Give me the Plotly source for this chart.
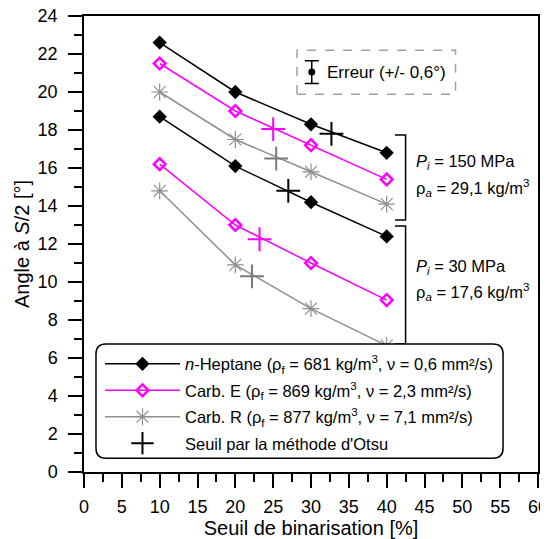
import plotly.graph_objects as go

# ---- data ----
x_seuil = [10, 20, 30, 40]
hep_150 = [22.6, 20.0, 18.3, 16.8]
hep_30 = [18.7, 16.1, 14.2, 12.4]
carbE_150 = [21.5, 19.0, 17.2, 15.4]
carbE_30 = [16.2, 13.0, 11.0, 9.05]
carbR_150 = [20.0, 17.5, 15.8, 14.1]
carbR_30 = [14.8, 10.9, 8.6, 6.65]

otsu_hep_x = [32.7, 27.0]
otsu_hep_y = [17.8, 14.8]
otsu_E_x = [25.0, 23.2]
otsu_E_y = [18.05, 12.25]
otsu_R_x = [25.4, 22.2]
otsu_R_y = [16.5, 10.3]

err_x = [30.1]
err_y = [21.05]
err_val = [0.6]

x_ticks = list(range(0, 61, 5))
y_ticks = list(range(0, 25, 2))

names = [
    "<i>n</i>-Heptane (ρ<sub>f</sub> = 681 kg/m<sup>3</sup>, ν = 0,6 mm²/s)",
    "Carb. E (ρ<sub>f</sub> = 869 kg/m<sup>3</sup>, ν = 2,3 mm²/s)",
    "Carb. R (ρ<sub>f</sub> = 877 kg/m<sup>3</sup>, ν = 7,1 mm²/s)",
    "Seuil par la méthode d'Otsu",
]

BLACK = "#000000"
MAG = "#ff00ff"
GRAY = "#8f8f8f"
GRAY_D = "#7a7a7a"
FONT = "Arial, Liberation Sans, sans-serif"

fig = go.Figure()

def series(y150, y30, name, color, marker, group):
    xs = x_seuil + [None] + x_seuil
    ys = y150 + [None] + y30
    fig.add_trace(go.Scatter(x=xs, y=ys, mode="lines+markers", name=name,
                             line=dict(color=color, width=1.5),
                             marker=marker, connectgaps=False,
                             legendgroup=group))

series(hep_150, hep_30, names[0], BLACK,
       dict(symbol="diamond", size=11, color=BLACK, line=dict(width=0)), "g1")
series(carbE_150, carbE_30, names[1], MAG,
       dict(symbol="diamond-open", size=9, color=MAG, line=dict(width=2.5, color=MAG)), "g2")
series(carbR_150, carbR_30, names[2], GRAY,
       dict(symbol="asterisk-open", size=14, color=GRAY, line=dict(width=1.2, color=GRAY)), "g3")

cross = dict(symbol="cross-thin-open", size=17)
fig.add_trace(go.Scatter(x=otsu_hep_x, y=otsu_hep_y, mode="markers", name=names[3],
                         marker=dict(**cross, color=BLACK, line=dict(width=2, color=BLACK)),
                         legendgroup="g4"))
fig.add_trace(go.Scatter(x=otsu_E_x, y=otsu_E_y, mode="markers", showlegend=False,
                         marker=dict(**cross, color=MAG, line=dict(width=2, color=MAG))))
fig.add_trace(go.Scatter(x=otsu_R_x, y=otsu_R_y, mode="markers", showlegend=False,
                         marker=dict(**cross, color=GRAY_D, line=dict(width=2, color=GRAY_D))))

# error symbol
fig.add_trace(go.Scatter(x=err_x, y=err_y, mode="markers", showlegend=False,
                         marker=dict(symbol="circle", size=7, color=BLACK),
                         error_y=dict(type="data", array=err_val, color=BLACK,
                                      thickness=1.5, width=7)))

# ---- shapes ----
shapes = []
shapes.append(dict(type="rect", xref="x", yref="y", x0=28.15, x1=49.1, y0=19.88, y1=22.2,
                   line=dict(color="#a0a0a0", width=1.5, dash="dash")))
shapes.append(dict(type="path", xref="x", yref="y",
                   path="M 41.1,17.74 L 42.5,17.74 L 42.5,13.26 L 41.1,13.26",
                   line=dict(color=BLACK, width=1.5)))
shapes.append(dict(type="path", xref="x", yref="y",
                   path="M 41.1,12.95 L 42.5,12.95 L 42.5,6.74 L 41.1,6.74",
                   line=dict(color=BLACK, width=1.5)))
x0, x1, y0, y1 = 0.0264, 0.923, 0.0300, 0.2807
rx, ry = 0.022, 0.022
p = (f"M {x0+rx},{y0} L {x1-rx},{y0} Q {x1},{y0} {x1},{y0+ry} "
     f"L {x1},{y1-ry} Q {x1},{y1} {x1-rx},{y1} L {x0+rx},{y1} "
     f"Q {x0},{y1} {x0},{y1-ry} L {x0},{y0+ry} Q {x0},{y0} {x0+rx},{y0} Z")
shapes.append(dict(type="path", xref="paper", yref="paper", path=p, layer="above",
                   fillcolor="white", line=dict(color=BLACK, width=1.5)))

# ---- annotations ----
ann = []
def txt(x, y, t, size=16.5):
    ann.append(dict(x=x, y=y, xref="x", yref="y", text=t, showarrow=False,
                    xanchor="left", yanchor="middle",
                    font=dict(family=FONT, size=size, color=BLACK)))
txt(31.9, 21.05, "Erreur (+/- 0,6°)", 17)
txt(43.6, 16.3, "<i>P<sub>i</sub></i> = 150 MPa")
txt(43.6, 14.95, "ρ<sub><i>a</i></sub> = 29,1 kg/m<sup>3</sup>")
txt(43.6, 10.8, "<i>P<sub>i</sub></i> = 30 MPa")
txt(43.6, 9.5, "ρ<sub><i>a</i></sub> = 17,6 kg/m<sup>3</sup>")

axis_common = dict(showline=True, linecolor=BLACK, linewidth=1.5, mirror=True,
                   ticks="outside", ticklen=14, tickwidth=1.5, tickcolor=BLACK,
                   showgrid=False, zeroline=False, automargin=False,
                   ticklabeloverflow="allow",
                   tickfont=dict(family=FONT, size=18, color=BLACK))

# page body has an 8px default margin: figure is 540x531 so the plot sits where the reference's does
fig.update_layout(
    width=540, height=531,
    margin=dict(l=76, r=10, t=8, b=67),
    paper_bgcolor="white", plot_bgcolor="white",
    font=dict(family=FONT, color=BLACK),
    xaxis=dict(range=[0, 60], tickvals=x_ticks, ticklabelstandoff=4,
               minor=dict(dtick=2.5, tick0=0, ticks="outside", ticklen=8, tickwidth=1.5, tickcolor=BLACK),
               title=dict(text="Seuil de binarisation [%]", font=dict(family=FONT, size=20), standoff=2),
               **axis_common),
    yaxis=dict(range=[0, 24], tickvals=y_ticks, ticklabelstandoff=7,
               minor=dict(dtick=1, tick0=0, ticks="outside", ticklen=8, tickwidth=1.5, tickcolor=BLACK),
               title=dict(text="Angle à <i>S</i>/2 [°]", font=dict(family=FONT, size=20), standoff=3),
               **axis_common),
    legend=dict(x=0.0352, y=0.275, xanchor="left", yanchor="top",
                bgcolor="rgba(0,0,0,0)", borderwidth=0,
                font=dict(family=FONT, size=16.5, color=BLACK),
                tracegroupgap=2, itemwidth=75),
    shapes=shapes, annotations=ann,
)

fig.write_html("out.html")
